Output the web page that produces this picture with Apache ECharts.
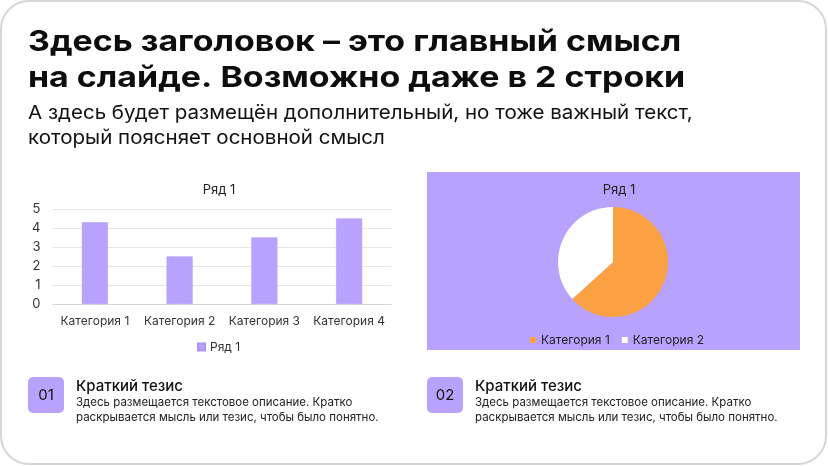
<!DOCTYPE html>
<html>
<head>
<meta charset="utf-8">
<script src="https://cdn.jsdelivr.net/npm/echarts@6/dist/echarts.min.js"></script>
<style>
html,body{margin:0;padding:0;background:#ffffff;}
#c{width:828px;height:466px;}
</style>
</head>
<body>
<div id="c"></div>
<script>
const categories = ['Категория 1', 'Категория 2', 'Категория 3', 'Категория 4'];
const barValues = [4.3, 2.5, 3.5, 4.5];
const seriesName = 'Ряд 1';
const pieNames = ['Категория 1', 'Категория 2'];
const pieValues = [4.3, 2.5];
const yTicks = [0, 1, 2, 3, 4, 5];

const titleLines = ['Здесь заголовок – это главный смысл', 'на слайде. Возможно даже в 2 строки'];
const subtitleLines = ['А здесь будет размещён дополнительный, но тоже важный текст,', 'который поясняет основной смысл'];
const thesisHeads = ['Краткий тезис', 'Краткий тезис'];
const thesisNums = ['01', '02'];
const thesisText = ['Здесь размещается текстовое описание. Кратко', 'раскрывается мысль или тезис, чтобы было понятно.'];

const FONT = 'Inter, "Noto Sans", sans-serif';
const PURPLE = '#b9a2fd';
const ORANGE = '#fba144';

function txt(text, x, y, font, color, sx) {
  return { type: 'text', z: 10, x: x, y: y, scaleX: sx || 1,
    style: { text: text, x: 0, y: 0, font: font, fill: color || '#111',
    textAlign: 'left', textVerticalAlign: 'middle', align: 'left', verticalAlign: 'middle' } };
}

const graphics = [
  { type: 'rect', z: -20, shape: { x: 1, y: 1, width: 825, height: 463, r: 28 },
    style: { fill: '#ffffff', stroke: '#d7d7d7', lineWidth: 2 } },
  { type: 'rect', z: -10, shape: { x: 427, y: 172, width: 373, height: 178 },
    style: { fill: PURPLE } },
  txt(titleLines[0], 28, 42, '700 29px ' + FONT, '#0d0d0d', 1.17),
  txt(titleLines[1], 28, 78, '700 29px ' + FONT, '#0d0d0d', 1.17),
  txt(subtitleLines[0], 28, 113, '400 19px ' + FONT, '#111', 1.08),
  txt(subtitleLines[1], 28, 138, '400 19px ' + FONT, '#111', 1.08)
];
[28, 427].forEach(function (bx, i) {
  graphics.push({ type: 'rect', z: 5, shape: { x: bx, y: 377, width: 36, height: 36, r: 5 }, style: { fill: PURPLE } });
  graphics.push({ type: 'text', z: 10, style: { text: thesisNums[i], x: bx + 18, y: 395, font: '400 15px ' + FONT, fill: '#111',
    textAlign: 'center', textVerticalAlign: 'middle', align: 'center', verticalAlign: 'middle' } });
  graphics.push(txt(thesisHeads[i], bx + 48, 386, '500 15px ' + FONT, '#111'));
  graphics.push(txt(thesisText[0], bx + 48, 403, '400 11.5px ' + FONT, '#222'));
  graphics.push(txt(thesisText[1], bx + 48, 418, '400 11.5px ' + FONT, '#222'));
});

const chart = echarts.init(document.getElementById('c'), null, { renderer: 'canvas' });
chart.setOption({
  animation: false,
  textStyle: { fontFamily: FONT },
  graphic: { elements: graphics },
  title: [
    { text: seriesName, left: 214, top: 179, textAlign: 'center',
      textStyle: { fontSize: 13, fontWeight: 400, color: '#222', fontFamily: FONT } },
    { text: seriesName, left: 614, top: 179, textAlign: 'center',
      textStyle: { fontSize: 13, fontWeight: 400, color: '#222', fontFamily: FONT } }
  ],
  legend: [
    { data: [seriesName], left: 192, top: 336, icon: 'rect', itemWidth: 7, itemHeight: 7, itemGap: 10,
      textStyle: { fontSize: 12, color: '#333', fontFamily: FONT } },
    { data: pieNames, left: 525, top: 329, icon: 'rect', itemWidth: 6, itemHeight: 6, itemGap: 12,
      textStyle: { fontSize: 12, color: '#222', fontFamily: FONT } }
  ],
  grid: { left: 52.5, right: 436.5, top: 209, bottom: 162, containLabel: false },
  xAxis: {
    type: 'category', data: categories,
    axisLine: { lineStyle: { color: '#d9d9d9', width: 1 } },
    axisTick: { show: false },
    axisLabel: { fontSize: 12, color: '#333', margin: 11, fontFamily: FONT, interval: 0 }
  },
  yAxis: {
    type: 'value', min: yTicks[0], max: yTicks[yTicks.length - 1], interval: 1,
    axisLine: { show: false }, axisTick: { show: false },
    axisLabel: { fontSize: 13, color: '#333', margin: 12, fontFamily: FONT },
    splitLine: { lineStyle: { color: '#e6e6e6', width: 1 } }
  },
  series: [
    { type: 'bar', name: seriesName, data: barValues, barWidth: 26,
      itemStyle: { color: PURPLE, borderColor: '#ad93fb', borderWidth: 0.5 } },
    { type: 'pie', name: seriesName, center: [613, 262], radius: 55, startAngle: 90, clockwise: true,
      label: { show: false }, labelLine: { show: false }, silent: true,
      data: pieNames.map(function (n, i) {
        return { name: n, value: pieValues[i], itemStyle: { color: i === 0 ? ORANGE : '#ffffff' } };
      }) }
  ]
});
</script>
</body>
</html>
